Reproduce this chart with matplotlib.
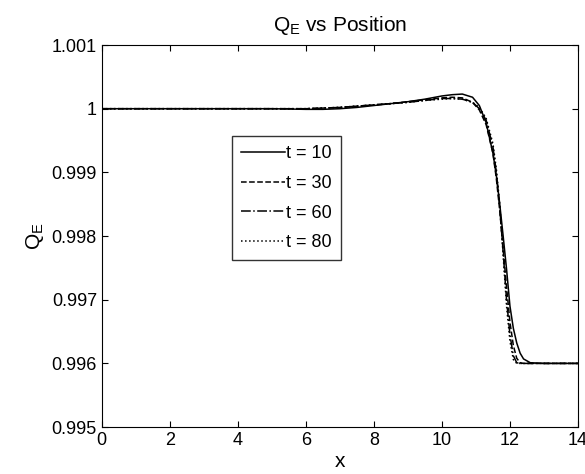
import matplotlib
matplotlib.use("Agg")
import matplotlib.pyplot as plt

plt.rcParams['font.family'] = ['Liberation Sans', 'DejaVu Sans']
plt.rcParams['mathtext.fontset'] = 'custom'
plt.rcParams['mathtext.rm'] = 'Liberation Sans'
plt.rcParams['mathtext.it'] = 'Liberation Sans'

# position samples
x = [0, 1, 2, 3, 4, 5, 6, 6.5, 7, 7.5, 8, 8.5, 9, 9.5, 10, 10.3, 10.6, 10.9,
     11.1, 11.3, 11.5, 11.6, 11.7, 11.8, 11.9, 12.0, 12.1, 12.2, 12.3, 12.4,
     12.6, 13, 14]

q_t10 = [1.0, 1.0, 1.0, 1.0, 1.0, 1.0, 0.99999, 0.99999, 1.0, 1.00002,
         1.00005, 1.00008, 1.00011, 1.00015, 1.0002, 1.00022, 1.00023, 1.00018,
         1.00005, 0.99978, 0.99930, 0.99895, 0.99850, 0.99800, 0.99748,
         0.99690, 0.99655, 0.99632, 0.99616, 0.99607, 0.99601, 0.996, 0.996]

q_t30 = [1.0, 1.0, 1.0, 1.0, 1.0, 1.0, 1.0, 1.00001, 1.00002, 1.00004,
         1.00006, 1.00008, 1.00011, 1.00014, 1.00017, 1.00018, 1.00017, 1.0001,
         0.99998, 0.99975, 0.99930, 0.99890, 0.99840, 0.99780, 0.99720,
         0.99665, 0.99628, 0.99608, 0.99601, 0.996, 0.996, 0.996, 0.996]

q_t60 = [1.0, 1.0, 1.0, 1.0, 1.0, 1.0, 1.0, 1.00001, 1.00002, 1.00004,
         1.00006, 1.00008, 1.0001, 1.00013, 1.00016, 1.00016, 1.00015, 1.0001,
         1.0, 0.99982, 0.99940, 0.99900, 0.99845, 0.99775, 0.99700,
         0.99645, 0.99612, 0.99601, 0.996, 0.996, 0.996, 0.996, 0.996]

q_t80 = [1.0, 1.0, 1.0, 1.0, 1.0, 1.0, 1.0, 1.00001, 1.00002, 1.00004,
         1.00006, 1.00008, 1.0001, 1.00013, 1.00015, 1.00016, 1.00015, 1.0001,
         1.00002, 0.99985, 0.99945, 0.99905, 0.99850, 0.99770, 0.99690,
         0.99635, 0.99606, 0.996, 0.996, 0.996, 0.996, 0.996, 0.996]

fig = plt.figure(figsize=(5.85, 4.74), dpi=100)
ax = fig.add_axes([0.174, 0.099, 0.814, 0.806])

ax.plot(x, q_t10, 'k-', lw=1.1, label='t = 10')
ax.plot(x, q_t30, 'k--', lw=1.1, label='t = 30')
ax.plot(x, q_t60, 'k-.', lw=1.1, label='t = 60')
ax.plot(x, q_t80, 'k:', lw=1.1, label='t = 80')

ax.set_xlim(0, 14)
ax.set_ylim(0.995, 1.001)
ax.set_xticks(range(0, 15, 2))
ax.set_yticks([0.995, 0.996, 0.997, 0.998, 0.999, 1.0, 1.001])
ax.set_yticklabels(['0.995', '0.996', '0.997', '0.998', '0.999', '1', '1.001'])
ax.tick_params(direction='in', top=True, right=True, labelsize=13, length=4)

ax.set_xlabel('x', fontsize=15, labelpad=2)
ax.set_ylabel(r'Q$_\mathrm{E}$', fontsize=15)
ax.set_title(r'Q$_\mathrm{E}$ vs Position', fontsize=15, pad=10)

leg = ax.legend(loc='upper left', bbox_to_anchor=(0.255, 0.785), fontsize=13,
                frameon=True, fancybox=False, edgecolor='k', handlelength=2.4,
                handletextpad=0.1, borderpad=0.5, labelspacing=0.7)
leg.get_frame().set_linewidth(1.0)

plt.savefig('out.png', dpi=100)
